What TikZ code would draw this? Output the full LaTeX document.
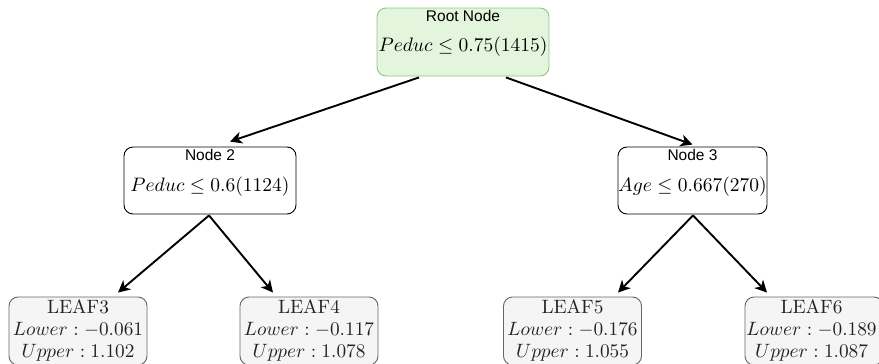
\documentclass[tikz,border=0pt]{standalone}
\usepackage{fontspec}
\newfontfamily\labelfont{Liberation Sans}
\usetikzlibrary{arrows.meta,calc}
\definecolor{rootfill}{HTML}{E4F5DE}
\definecolor{rootdraw}{HTML}{8CC97A}
\definecolor{leaffill}{HTML}{F5F5F5}
\definecolor{leafdraw}{HTML}{666666}
\definecolor{leaftext}{HTML}{222222}
\tikzset{
  box/.style={rounded corners=9pt, line width=0.9pt, inner sep=0pt, minimum height=67pt},
  rootbox/.style={box, fill=rootfill, draw=rootdraw},
  splitbox/.style={box, fill=white, draw=black},
  leafbox/.style={box, fill=leaffill, draw=leafdraw, minimum width=138pt, minimum height=68pt},
  sflbl/.style={inner sep=0pt, font=\labelfont\fontsize{15.5}{18}\selectfont},
  mathlbl/.style={inner sep=0pt, scale=1.95, font=\fontsize{10}{12}\selectfont},
  leaflbl/.style={inner sep=0pt, scale=1.93, text=leaftext, font=\fontsize{10}{12}\selectfont},
  conn/.style={line width=1.9pt, -{Stealth[length=12pt, width=12pt, inset=3.5pt]}},
}
\begin{document}
\begin{tikzpicture}[x=1pt, y=-1pt]
\useasboundingbox (0,0) rectangle (879,364);
% boxes
\node[rootbox, minimum width=172pt, minimum height=68pt] (root) at (463,42) {};
\node[splitbox, minimum width=172pt] (n2) at (210,180.5) {};
\node[splitbox, minimum width=149pt] (n3) at (692.5,180.5) {};
\node[leafbox] (l3) at (78,331) {};
\node[leafbox] (l4) at (309,331) {};
\node[leafbox] (l5) at (572.5,331) {};
\node[leafbox] (l6) at (814,331) {};
% texts
\node[sflbl] (roott) at (463,16) {Root Node};
\node[mathlbl] (rootm) at (463,47) {$Peduc \leq 0.75(1415)$};
\node[sflbl] (n2t) at (210,155) {Node 2};
\node[mathlbl] (n2m) at (210,187) {$Peduc \leq 0.6(1124)$};
\node[sflbl] (n3t) at (692.5,155) {Node 3};
\node[mathlbl] (n3m) at (692.5,187) {$Age \leq 0.667(270)$};
\foreach \n/\x/\t/\lo/\up in {l3/78/LEAF3/0.061/1.102, l4/309/LEAF4/0.117/1.078, l5/572.5/LEAF5/0.176/1.055, l6/811.5/LEAF6/0.189/1.087}{
  \node[leaflbl] (\n t) at (\x,307) {$\mathrm{\t}$};
  \node[leaflbl] (\n lo) at (\x,330) {$Lower : -\lo$};
  \node[leaflbl] (\n up) at (\x,353) {$Upper : \up$};
}
% connectors
\draw[conn] ($(root.south)+(-44,1)$) -- ($(n2.north)+(20,-5)$);
\draw[conn] ($(root.south)+(43,1)$) -- ($(n3.north)+(0,-2)$);
\draw[conn] ($(n2.south)+(-1,1)$) -- ($(l3.north)+(40,-4)$);
\draw[conn] ($(n2.south)+(-1,1)$) -- ($(l4.north)+(-36,-4)$);
\draw[conn] ($(n3.south)+(0.5,1)$) -- ($(l5.north)+(45.5,-4)$);
\draw[conn] ($(n3.south)+(0.5,1)$) -- ($(l6.north)+(-47,-4)$);
\end{tikzpicture}
\end{document}
